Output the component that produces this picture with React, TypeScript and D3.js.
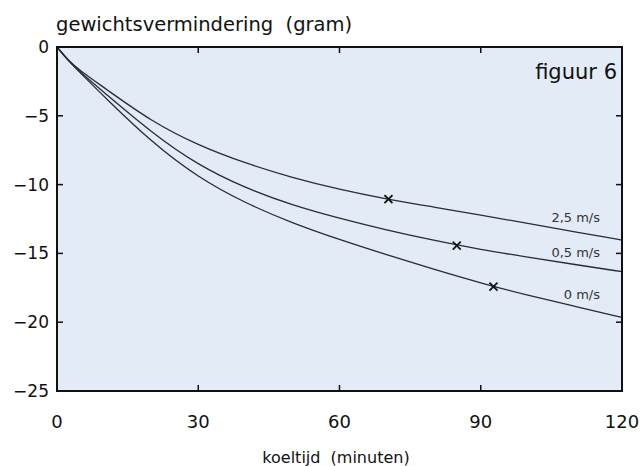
import React from 'react';
import * as d3 from 'd3';

const minutes = [0, 2.3, 5, 10, 20, 30, 40, 50, 60, 70, 80, 90, 100, 110, 120];
const v25 = [0, -0.95, -1.75, -2.95, -5.4, -7.15, -8.45, -9.5, -10.35, -11.05, -11.63, -12.22, -12.82, -13.43, -14.03];
const v05 = [0, -0.95, -1.85, -3.3, -6.2, -8.6, -10.25, -11.5, -12.45, -13.3, -14.05, -14.72, -15.27, -15.81, -16.33];
const v00 = [0, -0.95, -1.9, -3.6, -6.9, -9.5, -11.35, -12.8, -14.0, -15.1, -16.15, -17.15, -18.05, -18.85, -19.65];

const seriesLabels = ['2,5 m/s', '0,5 m/s', '0 m/s'];
const markerX = [70.4, 84.9, 92.7];
const markerY = [-11.05, -14.44, -17.42];
const labelY = [-12.7, -15.28, -18.34];

const xTicks = [0, 30, 60, 90, 120];
const yTicks = [0, -5, -10, -15, -20, -25];

const W = 643;
const H = 466;
const margin = { top: 47, right: 21, bottom: 75, left: 57 };
const font = 'DejaVu Sans, sans-serif';

export default function App() {
  const x = d3.scaleLinear().domain([0, 120]).range([margin.left, W - margin.right]);
  const y = d3.scaleLinear().domain([-25, 0]).range([H - margin.bottom, margin.top]);

  const line = d3.line<[number, number]>()
    .x(d => x(d[0]))
    .y(d => y(d[1]))
    .curve(d3.curveBasis);

  const series = [v25, v05, v00].map(vals => minutes.map((m, i) => [m, vals[i]] as [number, number]));

  const x0 = x(0), x1 = x(120), y0 = y(0), y1 = y(-25);
  const tk = 6;

  return (
    <svg width={W} height={H} style={{ position: 'absolute', left: 0, top: 0, background: '#fff' }}>
      <rect x={x0} y={y0} width={x1 - x0} height={y1 - y0} fill="#e3ebf6" />

      {series.map((s, i) => (
        <path key={i} d={line(s) || ''} fill="none" stroke="#2a2a3a" strokeWidth={1.3} />
      ))}

      {markerX.map((m, i) => {
        const cx = x(m), cy = y(markerY[i]);
        return (
          <g key={i} stroke="#111" strokeWidth={1.8}>
            <line x1={cx - 4} y1={cy - 4} x2={cx + 4} y2={cy + 4} />
            <line x1={cx - 4} y1={cy + 4} x2={cx + 4} y2={cy - 4} />
          </g>
        );
      })}

      {seriesLabels.map((l, i) => (
        <text key={l} x={600} y={y(labelY[i])} textAnchor="end" fontFamily={font} fontSize={13} fill="#333">{l}</text>
      ))}

      <rect x={x0} y={y0} width={x1 - x0} height={y1 - y0} fill="none" stroke="#111" strokeWidth={2} />

      {xTicks.slice(1, -1).map(t => (
        <g key={t} stroke="#111" strokeWidth={1.5}>
          <line x1={x(t)} x2={x(t)} y1={y0} y2={y0 + tk} />
          <line x1={x(t)} x2={x(t)} y1={y1} y2={y1 - tk} />
        </g>
      ))}
      {yTicks.slice(1, -1).map(t => (
        <g key={t} stroke="#111" strokeWidth={1.5}>
          <line x1={x0} x2={x0 + tk} y1={y(t)} y2={y(t)} />
          <line x1={x1} x2={x1 - tk} y1={y(t)} y2={y(t)} />
        </g>
      ))}

      {xTicks.map(t => (
        <text key={t} x={x(t)} y={428} textAnchor="middle" fontFamily={font} fontSize={18} fill="#111">{t}</text>
      ))}
      {yTicks.map(t => (
        <text key={t} x={49} y={y(t) + 6} textAnchor="end" fontFamily={font} fontSize={17} fill="#111">
          {t < 0 ? '\u2212' + Math.abs(t) : t}
        </text>
      ))}

      <text x={56} y={31} fontFamily={font} fontSize={19.5} fill="#111" xmlSpace="preserve">gewichtsvermindering  (gram)</text>
      <text x={336} y={463} textAnchor="middle" fontFamily={font} fontSize={16} fill="#111" xmlSpace="preserve">koeltijd  (minuten)</text>
      <text x={617} y={79} textAnchor="end" fontFamily={font} fontSize={21} fill="#111">figuur 6</text>
    </svg>
  );
}
